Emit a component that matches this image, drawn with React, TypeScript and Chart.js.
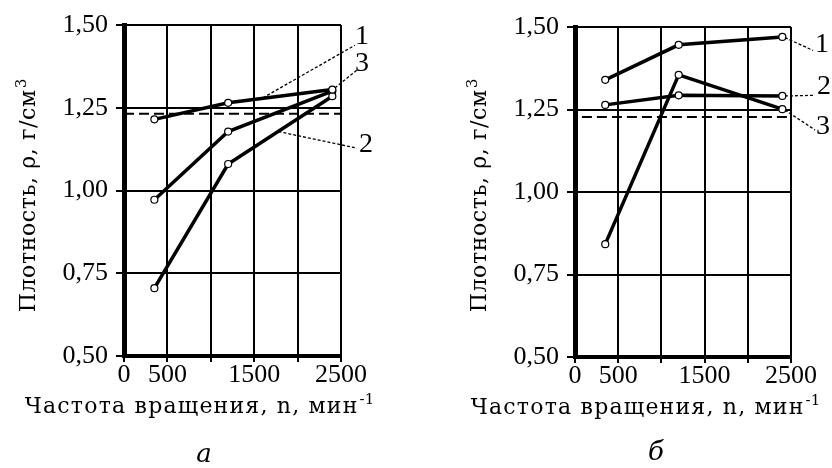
import React, { useEffect, useRef } from 'react';
import { Chart, registerables } from 'chart.js';

Chart.register(...registerables);

// ---------- data ----------
const rpm = [350, 1200, 2400];

// panel "а"
const aCurve1 = [1.215, 1.265, 1.305];
const aCurve2 = [0.705, 1.08, 1.285];
const aCurve3 = [0.972, 1.178, 1.3];
const aRefDensity = 1.232;
const aRefSpan = [0, 2500];

// panel "б"
const bCurve1 = [1.34, 1.446, 1.47];
const bCurve2 = [1.264, 1.293, 1.291];
const bCurve3 = [0.842, 1.355, 1.251];
const bRefDensity = 1.227;
const bRefSpan = [80, 2500];

const xLabeledTicks = [0, 500, 1500, 2500];
const xMin = 0;
const xMax = 2500;
const xStep = 500;
const yMin = 0.5;
const yMax = 1.5;
const yStep = 0.25;

const curveNames = ['1', '2', '3'];

// leader lines: [fromX, fromY] -> [toX, toY], label at [x, y] (data units)
const aLeaderFrom = [[1600, 1.28], [1780, 1.178], [2430, 1.31]];
const aLeaderTo = [[2661, 1.439], [2684, 1.128], [2684, 1.364]];
const aLabelAt = [[2742, 1.464], [2788, 1.14], [2742, 1.382]];

const bLeaderFrom = [[2430, 1.468], [2430, 1.291], [2430, 1.248]];
const bLeaderTo = [[2755, 1.429], [2778, 1.293], [2778, 1.188]];
const bLabelAt = [[2859, 1.447], [2882, 1.32], [2870, 1.197]];

const xTitle = 'Частота вращения, n, мин';
const xTitleSup = '-1';
const yTitle = 'Плотность, ρ, г/см';
const yTitleSup = '3';

// ---------- plugin ----------
const panelText = {
  id: 'panelText',
  afterDraw(chart: any, _args: any, opts: any) {
    const ctx = chart.ctx as any;
    const xs = chart.scales.x;
    const ys = chart.scales.y;
    ctx.save();
    ctx.strokeStyle = '#000';
    ctx.fillStyle = '#000';
    ctx.lineWidth = 1.3;
    ctx.setLineDash([3, 2]);
    opts.from.forEach((f: number[], i: number) => {
      const t = opts.to[i];
      ctx.beginPath();
      ctx.moveTo(xs.getPixelForValue(f[0]), ys.getPixelForValue(f[1]));
      ctx.lineTo(xs.getPixelForValue(t[0]), ys.getPixelForValue(t[1]));
      ctx.stroke();
    });
    ctx.setLineDash([]);
    ctx.font = '28px "Liberation Serif"';
    ctx.textAlign = 'center';
    ctx.textBaseline = 'middle';
    opts.at.forEach((a: number[], i: number) => {
      ctx.fillText(curveNames[i], xs.getPixelForValue(a[0]), ys.getPixelForValue(a[1]));
    });

    // x title
    ctx.textAlign = 'left';
    ctx.textBaseline = 'alphabetic';
    ctx.letterSpacing = '1.2px';
    ctx.font = '22px "DejaVu Serif"';
    const wBase = ctx.measureText(xTitle).width;
    ctx.letterSpacing = '0px';
    ctx.font = '15px "DejaVu Serif"';
    const wSup = ctx.measureText(xTitleSup).width;
    const x0 = opts.xTitleX - (wBase + wSup) / 2;
    ctx.letterSpacing = '1.2px';
    ctx.font = '22px "DejaVu Serif"';
    ctx.fillText(xTitle, x0, opts.xTitleY);
    ctx.letterSpacing = '0px';
    ctx.font = '15px "DejaVu Serif"';
    ctx.fillText(xTitleSup, x0 + wBase + 1, opts.xTitleY - 9);

    // y title (rotated)
    ctx.save();
    ctx.translate(opts.yTitleX, opts.yTitleY);
    ctx.rotate(-Math.PI / 2);
    ctx.letterSpacing = '0.6px';
    ctx.font = '22px "DejaVu Serif"';
    const wyBase = ctx.measureText(yTitle).width;
    ctx.letterSpacing = '0px';
    ctx.font = '15px "DejaVu Serif"';
    const wySup = ctx.measureText(yTitleSup).width;
    const y0 = -(wyBase + wySup) / 2;
    ctx.letterSpacing = '0.6px';
    ctx.font = '22px "DejaVu Serif"';
    ctx.fillText(yTitle, y0, 0);
    ctx.letterSpacing = '0px';
    ctx.font = '15px "DejaVu Serif"';
    ctx.fillText(yTitleSup, y0 + wyBase + 1, -9);
    ctx.restore();

    // panel letter
    ctx.font = 'italic 26px "DejaVu Serif"';
    ctx.textAlign = 'center';
    ctx.textBaseline = 'middle';
    ctx.fillText(opts.letter, opts.letterX, opts.letterY);
    ctx.restore();
  },
};

function curveDataset(values: number[]) {
  return {
    data: rpm.map((x, i) => ({ x, y: values[i] })),
    borderColor: '#000',
    borderWidth: 3.5,
    pointRadius: 3.5,
    pointBackgroundColor: '#fff',
    pointBorderColor: '#000',
    pointBorderWidth: 1.2,
    tension: 0,
    fill: false,
  };
}

function refDataset(level: number, span: number[]) {
  return {
    data: span.map((x) => ({ x, y: level })),
    borderColor: '#000',
    borderWidth: 2,
    borderDash: [10, 5],
    pointRadius: 0,
    fill: false,
  };
}

const tickFont = { family: '"Liberation Serif"', size: 26, lineHeight: 1 };

type PanelProps = {
  curves: number[][];
  refLevel: number;
  refSpan: number[];
  from: number[][];
  to: number[][];
  at: number[][];
  yAxisWidth: number;
  padRight: number;
  padTop: number;
  padBottom: number;
  xTitleX: number;
  xTitleY: number;
  yTitleX: number;
  yTitleY: number;
  letter: string;
  letterX: number;
  letterY: number;
};

function Panel(p: PanelProps) {
  const ref = useRef<HTMLCanvasElement>(null);
  useEffect(() => {
    if (!ref.current) return;
    const chart = new Chart(ref.current, {
      type: 'line',
      data: {
        datasets: [
          refDataset(p.refLevel, p.refSpan),
          ...p.curves.map((c) => curveDataset(c)),
        ] as any,
      },
      options: {
        animation: false,
        responsive: false,
        devicePixelRatio: 1,
        layout: { padding: { left: 0, right: p.padRight, top: p.padTop, bottom: p.padBottom } },
        plugins: {
          legend: { display: false },
          tooltip: { enabled: false },
          panelText: {
            from: p.from,
            to: p.to,
            at: p.at,
            xTitleX: p.xTitleX,
            xTitleY: p.xTitleY,
            yTitleX: p.yTitleX,
            yTitleY: p.yTitleY,
            letter: p.letter,
            letterX: p.letterX,
            letterY: p.letterY,
          },
        } as any,
        scales: {
          x: {
            type: 'linear',
            min: xMin,
            max: xMax,
            ticks: {
              stepSize: xStep,
              autoSkip: false,
              maxRotation: 0,
              padding: 0,
              color: '#000',
              font: tickFont,
              callback: (v: any) => (xLabeledTicks.includes(Number(v)) ? String(v) : ''),
            },
            grid: { color: '#000', lineWidth: 2, tickLength: 6, drawTicks: true },
            border: { color: '#000', width: 4 },
            afterFit: (s: any) => {
              s.height = 40;
            },
          },
          y: {
            type: 'linear',
            min: yMin,
            max: yMax,
            ticks: {
              stepSize: yStep,
              padding: 8,
              color: '#000',
              font: tickFont,
              callback: (v: any) => Number(v).toFixed(2).replace('.', ','),
            },
            grid: { color: '#000', lineWidth: 2, tickLength: 8, drawTicks: true },
            border: { color: '#000', width: 5 },
            afterFit: (s: any) => {
              s.width = p.yAxisWidth;
            },
          },
        } as any,
      },
      plugins: [panelText],
    });
    return () => chart.destroy();
  }, []);
  return <canvas ref={ref} width={416} height={468} style={{ display: 'block', width: 416, height: 468 }} />;
}

export default function App() {
  return (
    <div style={{ position: 'absolute', left: 0, top: 0, width: 832, height: 468, display: 'flex', background: '#fff' }}>
      <Panel
        curves={[aCurve1, aCurve2, aCurve3]}
        refLevel={aRefDensity}
        refSpan={aRefSpan}
        from={aLeaderFrom}
        to={aLeaderTo}
        at={aLabelAt}
        yAxisWidth={124}
        padRight={75}
        padTop={25}
        padBottom={72}
        xTitleX={199}
        xTitleY={413}
        yTitleX={35}
        yTitleY={196}
        letter="а"
        letterX={204}
        letterY={455}
      />
      <Panel
        curves={[bCurve1, bCurve2, bCurve3]}
        refLevel={bRefDensity}
        refSpan={bRefSpan}
        from={bLeaderFrom}
        to={bLeaderTo}
        at={bLabelAt}
        yAxisWidth={159}
        padRight={41}
        padTop={27}
        padBottom={71}
        xTitleX={229}
        xTitleY={414}
        yTitleX={70}
        yTitleY={196}
        letter="б"
        letterX={240}
        letterY={453}
      />
    </div>
  );
}
